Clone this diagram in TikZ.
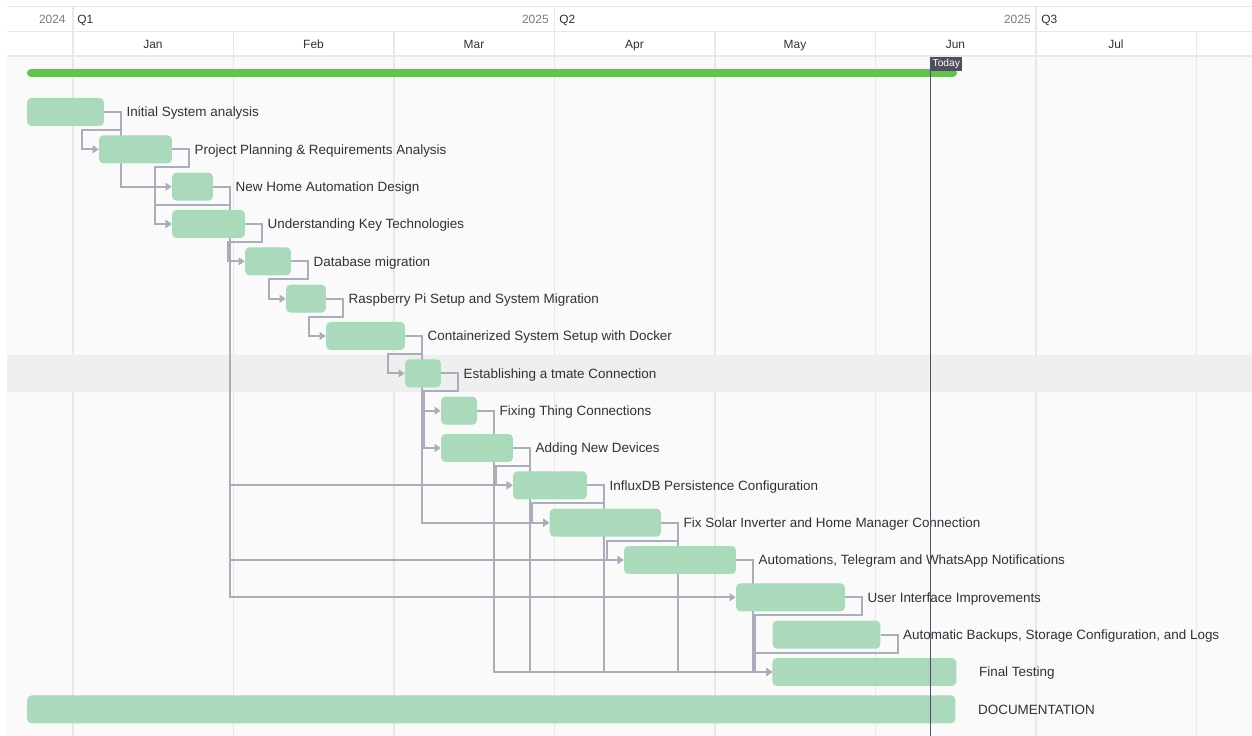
\documentclass[tikz,border=0pt]{standalone}
\usepackage{fontspec}
\setmainfont{Liberation Sans}
\usetikzlibrary{arrows.meta,positioning}

\definecolor{barfill}{HTML}{AAD9BB}
\definecolor{progfill}{HTML}{63C34C}
\definecolor{depline}{HTML}{A9AEBA}
\definecolor{gridcol}{HTML}{E8E8E8}
\definecolor{bodybg}{HTML}{FAFAFA}
\definecolor{rowhl}{HTML}{EFEFEF}
\definecolor{txt}{HTML}{2E3237}
\definecolor{yeartxt}{HTML}{7A7A7A}
\definecolor{todaycol}{HTML}{4D525A}

\pgfdeclarelayer{back}
\pgfdeclarelayer{mid}
\pgfsetlayers{back,mid,main}

\begin{document}
\begin{tikzpicture}[x=0.02cm, y=-0.02cm, node distance=0.44cm,
    bar/.style={fill=barfill, rounded corners=0.09cm, minimum height=0.56cm, inner sep=0},
    lbl/.style={text=txt, font=\fontsize{7.65}{9}\selectfont, inner sep=0, text height=5.5pt, text depth=0pt},
    hdr/.style={text=txt, font=\fontsize{6.8}{8}\selectfont, inner sep=0, text height=4.9pt, text depth=0pt},
    yr/.style={hdr, text=yeartxt},
    grid/.style={draw=gridcol, line width=0.6pt},
    dep/.style={draw=depline, line width=1.1pt, -{Triangle[length=3.4pt,width=4.4pt]}},
    todaybox/.style={fill=todaycol, text=white, font=\fontsize{5.8}{6}\selectfont, inner xsep=1.4pt, inner ysep=0, minimum height=0.28cm}]
    \useasboundingbox (0,0) rectangle (1252,736);

    % task bars
    \node[bar, minimum width=1.54cm] (init) at (65.5,112) {};
    \node[bar, minimum width=1.46cm] (plan) at (135.5,149.3) {};
    \node[bar, minimum width=0.82cm] (design) at (192.5,186.7) {};
    \node[bar, minimum width=1.46cm] (tech) at (208.5,224) {};
    \node[bar, minimum width=0.92cm] (dbmig) at (268,261.3) {};
    \node[bar, minimum width=0.80cm] (raspi) at (306,298.7) {};
    \node[bar, minimum width=1.58cm] (docker) at (365.5,336) {};
    \node[bar, minimum width=0.72cm] (tmate) at (423,373.3) {};
    \node[bar, minimum width=0.72cm] (things) at (459,410.7) {};
    \node[bar, minimum width=1.44cm] (devices) at (477,448) {};
    \node[bar, minimum width=1.48cm] (influx) at (550,485.3) {};
    \node[bar, minimum width=2.23cm] (solar) at (605.3,522.7) {};
    \node[bar, minimum width=2.24cm] (autom) at (680,560) {};
    \node[bar, minimum width=2.18cm] (ui) at (790.5,597.3) {};
    \node[bar, minimum width=2.16cm] (backup) at (826.5,634.7) {};
    \node[bar, minimum width=3.68cm] (testing) at (864.4,672) {};
    \node[bar, minimum width=18.57cm] (docu) at (491.3,709.3) {};

    % task names
    \node[lbl, right=of init] (init-l) {Initial System analysis};
    \node[lbl, right=of plan] (plan-l) {Project Planning \& Requirements Analysis};
    \node[lbl, right=of design] (design-l) {New Home Automation Design};
    \node[lbl, right=of tech] (tech-l) {Understanding Key Technologies};
    \node[lbl, right=of dbmig] (dbmig-l) {Database migration};
    \node[lbl, right=of raspi] (raspi-l) {Raspberry Pi Setup and System Migration};
    \node[lbl, right=of docker] (docker-l) {Containerized System Setup with Docker};
    \node[lbl, right=of tmate] (tmate-l) {Establishing a tmate Connection};
    \node[lbl, right=of things] (things-l) {Fixing Thing Connections};
    \node[lbl, right=of devices] (devices-l) {Adding New Devices};
    \node[lbl, right=of influx] (influx-l) {InfluxDB Persistence Configuration};
    \node[lbl, right=of solar] (solar-l) {Fix Solar Inverter and Home Manager Connection};
    \node[lbl, right=of autom] (autom-l) {Automations, Telegram and WhatsApp Notifications};
    \node[lbl, right=of ui] (ui-l) {User Interface Improvements};
    \node[lbl, right=of backup] (backup-l) {Automatic Backups, Storage Configuration, and Logs};
    \node[lbl, right=of testing] (testing-l) {Final Testing};
    \node[lbl, right=of docu] (docu-l) {DOCUMENTATION};

    \begin{pgfonlayer}{back}
    \fill[white] (0,0) rectangle (1252,736);
    \fill[bodybg] (7,56) rectangle (1252,736);
    % timeline header
    \draw[grid] (7,6.5) -- (1252,6.5);
    \draw[grid] (7,31.5) -- (1252,31.5);
    \draw[grid] (7,56) -- (1252,56);
    \draw[grid] (73,6.5) -- (73,736);
    \draw[grid] (554.5,6.5) -- (554.5,736);
    \draw[grid] (1036,6.5) -- (1036,736);
    \draw[grid] (233.5,31.5) -- (233.5,736);
    \draw[grid] (394,31.5) -- (394,736);
    \draw[grid] (715,31.5) -- (715,736);
    \draw[grid] (875.5,31.5) -- (875.5,736);
    \draw[grid] (1196.5,31.5) -- (1196.5,736);
    % selected row and overall progress
    \fill[rowhl] (7,355) rectangle (1252,392.5);
    \fill[progfill, rounded corners=0.08cm] (27,69) rectangle (957,77);
    \end{pgfonlayer}

    \node[yr, anchor=east] (y1) at (66,19) {2024};
    \node[hdr, anchor=west] (q1) at (77,19) {Q1};
    \node[yr, anchor=east] (y2) at (549,19) {2025};
    \node[hdr, anchor=west] (q2) at (559,19) {Q2};
    \node[yr, anchor=east] (y3) at (1031,19) {2025};
    \node[hdr, anchor=west] (q3) at (1041,19) {Q3};
    \node[hdr] (jan) at (153,44) {Jan};
    \node[hdr] (feb) at (313.5,44) {Feb};
    \node[hdr] (mar) at (474,44) {Mar};
    \node[hdr] (apr) at (634.5,44) {Apr};
    \node[hdr] (may) at (795,44) {May};
    \node[hdr] (jun) at (955.5,44) {Jun};
    \node[hdr] (jul) at (1116,44) {Jul};

    % dependencies
    \begin{pgfonlayer}{mid}
    \draw[dep] (init.east) -- ++(17,0) -- ++(0,18) -| ([xshift=-0.34cm]plan.west) -- (plan.west);
    \draw[dep] (init.east) -- ++(17,0) |- (design.west);
    \draw[dep] (plan.east) -- ++(17,0) -- ++(0,18) -| ([xshift=-0.34cm]tech.west) -- (tech.west);
    \draw[dep] (design.east) -- ++(17,0) -- ++(0,18) -| ([xshift=-0.34cm]tech.west) -- (tech.west);
    \draw[dep] (design.east) -- ++(17,0) |- (influx.west);
    \draw[dep] (design.east) -- ++(17,0) |- (autom.west);
    \draw[dep] (design.east) -- ++(17,0) |- (ui.west);
    \draw[dep] (tech.east) -- ++(17,0) -- ++(0,18) -| ([xshift=-0.34cm]dbmig.west) -- (dbmig.west);
    \draw[dep] (dbmig.east) -- ++(17,0) -- ++(0,18) -| ([xshift=-0.34cm]raspi.west) -- (raspi.west);
    \draw[dep] (raspi.east) -- ++(17,0) -- ++(0,18) -| ([xshift=-0.34cm]docker.west) -- (docker.west);
    \draw[dep] (docker.east) -- ++(17,0) -- ++(0,18) -| ([xshift=-0.34cm]tmate.west) -- (tmate.west);
    \draw[dep] (docker.east) -- ++(17,0) |- (solar.west);
    \draw[dep] (tmate.east) -- ++(17,0) -- ++(0,18) -| ([xshift=-0.34cm]things.west) -- (things.west);
    \draw[dep] (tmate.east) -- ++(17,0) -- ++(0,18) -| ([xshift=-0.34cm]devices.west) -- (devices.west);
    \draw[dep] (things.east) -- ++(17,0) |- (testing.west);
    \draw[dep] (devices.east) -- ++(17,0) -- ++(0,18) -| ([xshift=-0.34cm]influx.west) -- (influx.west);
    \draw[dep] (devices.east) -- ++(17,0) |- (testing.west);
    \draw[dep] (influx.east) -- ++(17,0) -- ++(0,18) -| ([xshift=-0.34cm]solar.west) -- (solar.west);
    \draw[dep] (influx.east) -- ++(17,0) |- (testing.west);
    \draw[dep] (solar.east) -- ++(17,0) -- ++(0,18) -| ([xshift=-0.34cm]autom.west) -- (autom.west);
    \draw[dep] (solar.east) -- ++(17,0) |- (testing.west);
    \draw[dep] (autom.east) -- ++(17,0) |- (testing.west);
    \draw[dep] (ui.east) -- ++(17,0) -- ++(0,18) -| ([xshift=-0.34cm]testing.west) -- (testing.west);
    \draw[dep] (backup.east) -- ++(17,0) -- ++(0,18) -| ([xshift=-0.34cm]testing.west) -- (testing.west);
    \end{pgfonlayer}

    % today marker
    \draw[todaycol, line width=0.75pt] (930.3,57) -- (930.3,736);
    \node[todaybox, anchor=north west] (today) at (929.9,57) {Today};
\end{tikzpicture}
\end{document}
